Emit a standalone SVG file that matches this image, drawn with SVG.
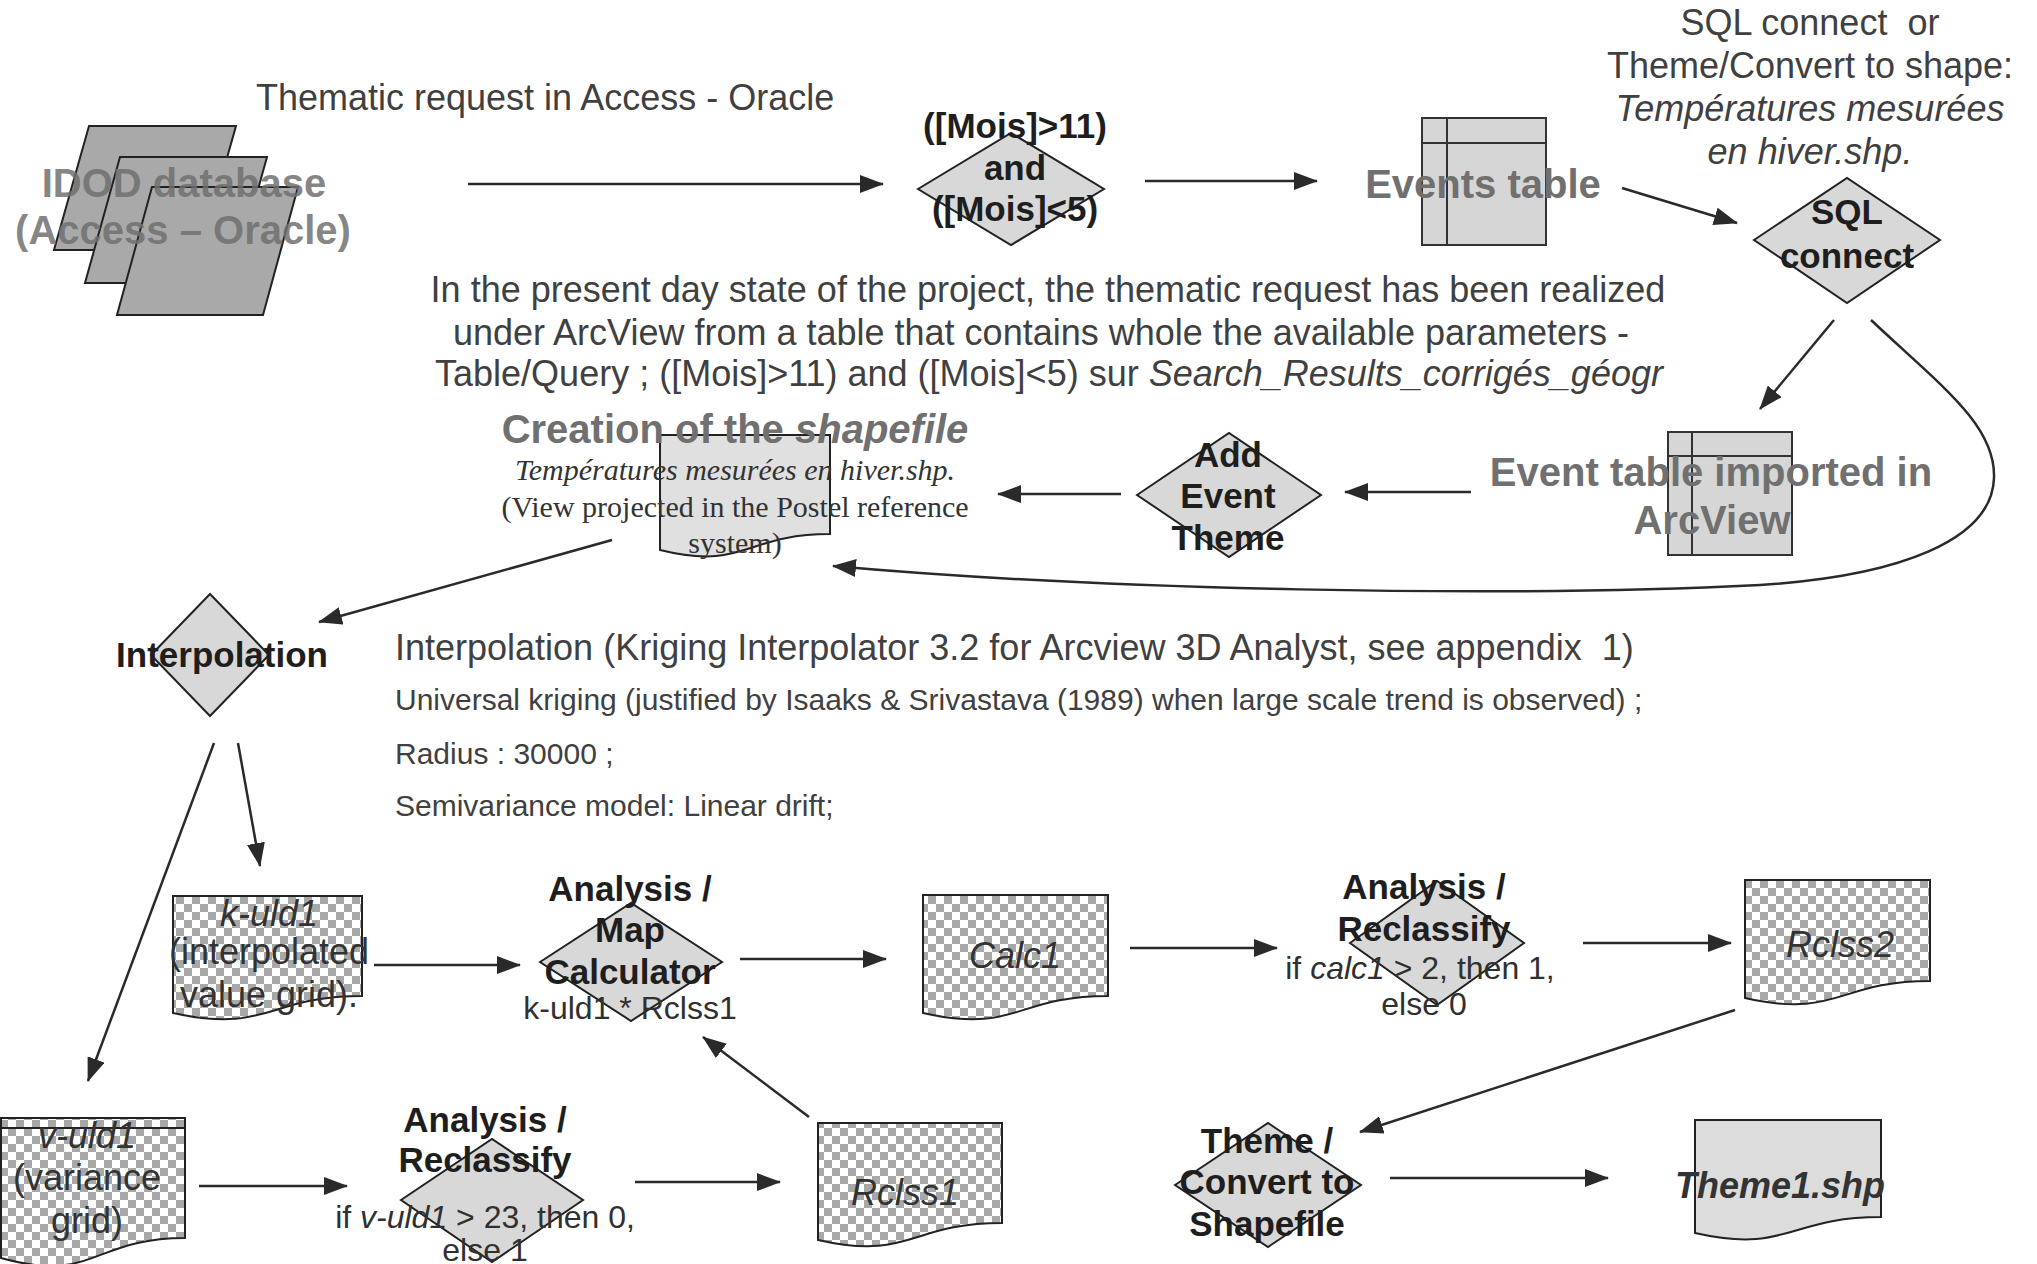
<svg xmlns="http://www.w3.org/2000/svg" width="2037" height="1264" viewBox="0 0 2037 1264">
<defs>
<style>
text{font-family:"Liberation Sans",Arial,sans-serif}
.b{font-weight:bold;font-size:35px;fill:#1e1e1e;text-anchor:middle}
.g{font-weight:bold;font-size:40px;fill:#707070;text-anchor:middle}
.r{font-size:36px;fill:#404040}
.s{font-size:30px;fill:#404040}
.d{font-size:32px;fill:#303030;text-anchor:middle}
.m{text-anchor:middle}
.i{font-style:italic}
.t{font-family:"Liberation Serif","Times New Roman",serif;font-size:30px;fill:#333;text-anchor:middle}
.gt{font-size:36px;fill:#333;text-anchor:middle}
.dia{fill:#d8d8d8;stroke:#222;stroke-width:2}
.tbl{fill:#d6d6d6;stroke:#333;stroke-width:2}
.doc{stroke:#222;stroke-width:2}
.par{fill:#a9a9a9;stroke:#222;stroke-width:2}
.con{fill:none;stroke:#2a2a2a;stroke-width:2.5;marker-end:url(#ah)}
</style>
<marker id="ah" markerUnits="userSpaceOnUse" markerWidth="24" markerHeight="18" viewBox="0 0 24 18" refX="23" refY="9" orient="auto"><path d="M0,0 L24,9 L0,18 z" fill="#2a2a2a"/></marker>
<pattern id="chk" patternUnits="userSpaceOnUse" width="16" height="16"><rect width="16" height="16" fill="#fff"/><rect width="8" height="8" fill="#a8a8a8"/><rect x="8" y="8" width="8" height="8" fill="#a8a8a8"/></pattern>
</defs>
<rect width="2037" height="1264" fill="#fff"/>

<g id="connectors">
<line class="con" x1="468" y1="184" x2="883" y2="184"/>
<line class="con" x1="1145" y1="181" x2="1317" y2="181"/>
<line class="con" x1="1622" y1="188" x2="1737" y2="223"/>
<line class="con" x1="1834" y1="320" x2="1760" y2="409"/>
<path class="con" d="M1871,320 C1940,385 1996,425 1994,478 C1992,540 1900,576 1760,585 C1500,598 1100,590 833,566"/>
<line class="con" x1="1471" y1="492" x2="1345" y2="492"/>
<line class="con" x1="1121" y1="494" x2="998" y2="494"/>
<line class="con" x1="612" y1="540" x2="319" y2="622"/>
<line class="con" x1="238" y1="743" x2="260" y2="866"/>
<line class="con" x1="214" y1="743" x2="88" y2="1081"/>
<line class="con" x1="374" y1="965" x2="520" y2="965"/>
<line class="con" x1="740" y1="959" x2="886" y2="959"/>
<line class="con" x1="1130" y1="948" x2="1277" y2="948"/>
<line class="con" x1="1583" y1="943" x2="1731" y2="943"/>
<line class="con" x1="1735" y1="1010" x2="1360" y2="1132"/>
<line class="con" x1="199" y1="1186" x2="347" y2="1186"/>
<line class="con" x1="635" y1="1182" x2="780" y2="1182"/>
<line class="con" x1="809" y1="1117" x2="703" y2="1037"/>
<line class="con" x1="1390" y1="1178" x2="1608" y2="1178"/>
</g>

<g id="idod-database">
<polygon class="par" points="89,126 236,126 201,250 54,250"/>
<polygon class="par" points="120,157 267,157 232,283 85,283"/>
<polygon class="par" points="152,187 298,187 263,315 117,315"/>
<text class="g" x="184" y="197" fill-opacity="0.85">IDOD database</text>
<text class="g" x="183" y="244" fill-opacity="0.85">(Access – Oracle)</text>
</g>

<g id="thematic-label">
<text class="r" x="256" y="110">Thematic request in Access - Oracle</text>
</g>

<g id="query-diamond">
<polygon class="dia" points="918,189 1011,133 1104,189 1011,245"/>
<text class="b" x="1015" y="138">([Mois]&gt;11)</text>
<text class="b" x="1015" y="180">and</text>
<text class="b" x="1015" y="221">([Mois]&lt;5)</text>
</g>

<g id="events-table">
<rect class="tbl" x="1422" y="118" width="124" height="127"/>
<line x1="1422" y1="143" x2="1546" y2="143" stroke="#333" stroke-width="2"/>
<line x1="1447" y1="118" x2="1447" y2="245" stroke="#333" stroke-width="2"/>
<text class="g" x="1483" y="198">Events table</text>
</g>

<g id="sql-note">
<text class="r m" x="1810" y="35" xml:space="preserve">SQL connect  or</text>
<text class="r m" x="1810" y="78">Theme/Convert to shape:</text>
<text class="r m i" x="1810" y="121">Températures mesurées</text>
<text class="r m i" x="1810" y="164">en hiver.shp.</text>
</g>

<g id="sql-connect">
<polygon class="dia" points="1754,240 1847,178 1940,240 1847,303"/>
<text class="b" x="1847" y="224">SQL</text>
<text class="b" x="1847" y="268">connect</text>
</g>

<g id="present-note">
<text class="r m" x="1048" y="302">In the present day state of the project, the thematic request has been realized</text>
<text class="r m" x="1041" y="345">under ArcView from a table that contains whole the available parameters -</text>
<text class="r m" x="1049" y="386">Table/Query ; ([Mois]&gt;11) and ([Mois]&lt;5) sur <tspan class="i">Search_Results_corrigés_géogr</tspan></text>
</g>

<g id="creation-shapefile">
<path class="doc" fill="#e0e0e0" d="M660,435 H830 V534 C745,534 745,571 660,550 Z"/>
<text class="g" x="735" y="443" fill="#666">Creation of the <tspan class="i">shapefile</tspan></text>
<text class="t i" x="735" y="480">Températures mesurées en hiver.shp.</text>
<text class="t" x="735" y="517">(View projected in the Postel reference</text>
<text class="t" x="735" y="553">system)</text>
</g>

<g id="add-event-theme">
<polygon class="dia" points="1137,495 1229,433 1321,495 1229,557"/>
<text class="b" x="1228" y="467">Add</text>
<text class="b" x="1228" y="508">Event</text>
<text class="b" x="1228" y="550">Theme</text>
</g>

<g id="arcview-table">
<rect class="tbl" x="1668" y="432" width="124" height="123"/>
<line x1="1668" y1="456" x2="1792" y2="456" stroke="#333" stroke-width="2"/>
<line x1="1692" y1="432" x2="1692" y2="555" stroke="#333" stroke-width="2"/>
<text class="g" x="1711" y="486">Event table imported in</text>
<text class="g" x="1712" y="534">ArcView</text>
</g>

<g id="interpolation">
<polygon class="dia" points="151,655 210,594 269,655 210,716"/>
<text class="b" x="222" y="667">Interpolation</text>
</g>

<g id="interpolation-note">
<text class="r" x="395" y="660" xml:space="preserve">Interpolation (Kriging Interpolator 3.2 for Arcview 3D Analyst, see appendix  1)</text>
<text class="s" x="395" y="710">Universal kriging (justified by Isaaks &amp; Srivastava (1989) when large scale trend is observed) ;</text>
<text class="s" x="395" y="764">Radius : 30000 ;</text>
<text class="s" x="395" y="816">Semivariance model: Linear drift;</text>
</g>

<g id="k-uld1">
<path class="doc" fill="url(#chk)" d="M173,896 H362 V996 C268,996 268,1034 173,1013 Z"/>
<text class="gt i" x="269" y="926" fill="#555">k-uld1</text>
<text class="gt" x="269" y="964">(interpolated</text>
<text class="gt" x="269" y="1007">value grid).</text>
</g>

<g id="map-calculator">
<polygon class="dia" points="540,962 631,903 722,962 631,1021"/>
<text class="b" x="630" y="901">Analysis /</text>
<text class="b" x="630" y="942">Map</text>
<text class="b" x="630" y="984">Calculator</text>
<text class="d" x="630" y="1019">k-uld1 * Rclss1</text>
</g>

<g id="calc1">
<path class="doc" fill="url(#chk)" d="M923,895 H1108 V996 C1016,996 1016,1034 923,1013 Z"/>
<text class="gt i" x="1015" y="968">Calc1</text>
</g>

<g id="reclassify-1">
<polygon class="dia" points="1350,943 1437,881 1524,943 1437,1005"/>
<text class="b" x="1424" y="899">Analysis /</text>
<text class="b" x="1424" y="941">Reclassify</text>
<text class="d" x="1420" y="979">if <tspan class="i">calc1</tspan> &gt; 2, then 1,</text>
<text class="d" x="1424" y="1015">else 0</text>
</g>

<g id="rclss2">
<path class="doc" fill="url(#chk)" d="M1745,880 H1930 V981 C1838,981 1838,1019 1745,998 Z"/>
<text class="gt i" x="1840" y="957">Rclss2</text>
</g>

<g id="v-uld1">
<path class="doc" fill="url(#chk)" d="M1,1118 H185 V1238 C93,1238 93,1284 1,1258 Z"/>
<line x1="1" y1="1128" x2="185" y2="1128" stroke="#222" stroke-width="2"/>
<text class="gt i" x="87" y="1148" fill="#555">v-uld1</text>
<text class="gt" x="87" y="1190">(variance</text>
<text class="gt" x="87" y="1233">grid)</text>
</g>

<g id="reclassify-2">
<polygon class="dia" points="401,1200 492,1139 583,1200 492,1262"/>
<text class="b" x="485" y="1132">Analysis /</text>
<text class="b" x="485" y="1172">Reclassify</text>
<text class="d" x="485" y="1228">if <tspan class="i">v-uld1</tspan> &gt; 23, then 0,</text>
<text class="d" x="485" y="1261">else 1</text>
</g>

<g id="rclss1">
<path class="doc" fill="url(#chk)" d="M818,1123 H1002 V1223 C910,1223 910,1261 818,1240 Z"/>
<text class="gt i" x="905" y="1205">Rclss1</text>
</g>

<g id="theme-convert">
<polygon class="dia" points="1175,1185 1268,1123 1361,1185 1268,1247"/>
<text class="b" x="1267" y="1153">Theme /</text>
<text class="b" x="1267" y="1194">Convert to</text>
<text class="b" x="1267" y="1236">Shapefile</text>
</g>

<g id="theme1-shp">
<path class="doc" fill="#dcdcdc" d="M1695,1120 H1881 V1217 C1788,1217 1788,1254 1695,1233 Z"/>
<text class="gt i" x="1780" y="1198" font-weight="bold" fill="#404040">Theme1.shp</text>
</g>
</svg>
